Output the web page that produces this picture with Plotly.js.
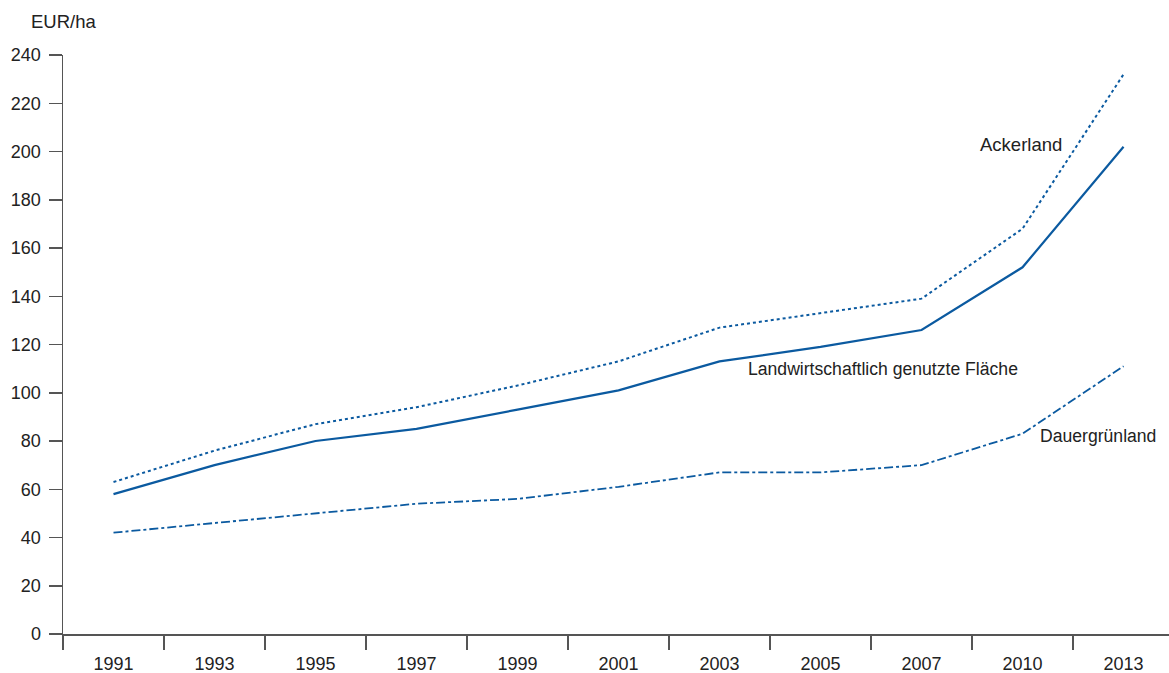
<!DOCTYPE html>
<html>
<head>
<meta charset="utf-8">
<script src="https://cdn.plot.ly/plotly-3.0.1.min.js"></script>
<style>html,body{margin:0;padding:0;background:#fff;}#chart{width:1169px;height:673px;}</style>
</head>
<body>
<div id="chart"></div>
<script>
const years = ["1991","1993","1995","1997","1999","2001","2003","2005","2007","2010","2013"];
const ackerland = [63, 76, 87, 94, 103, 113, 127, 133, 139, 168, 232];
const lf = [58, 70, 80, 85, 93, 101, 113, 119, 126, 152, 202];
const dauergruenland = [42, 46, 50, 54, 56, 61, 67, 67, 70, 83, 111];
const seriesNames = ["Ackerland", "Landwirtschaftlich genutzte Fläche", "Dauergrünland"];
const yTicks = [0, 20, 40, 60, 80, 100, 120, 140, 160, 180, 200, 220, 240];

const lineColor = "#0b5aa0";
const font = "Liberation Sans, Arial, sans-serif";
const fs = 17.6;

const traces = [
  {x: years, y: ackerland, name: seriesNames[0], mode: "lines", line: {color: lineColor, width: 2, dash: "dot"}},
  {x: years, y: lf, name: seriesNames[1], mode: "lines", line: {color: lineColor, width: 2.2, dash: "solid"}},
  {x: years, y: dauergruenland, name: seriesNames[2], mode: "lines", line: {color: lineColor, width: 1.8, dash: "dashdot"}}
];

const layout = {
  width: 1169, height: 673,
  margin: {l: 63, r: 0, t: 55, b: 39},
  paper_bgcolor: "#fff", plot_bgcolor: "#fff",
  showlegend: false,
  font: {family: font, size: fs, color: "#222"},
  xaxis: {
    type: "category",
    range: [-0.5, 10.45],
    showgrid: false, zeroline: false,
    showline: true, linecolor: "#555", linewidth: 2,
    ticks: "outside", tickson: "boundaries", ticklen: 14, tickcolor: "#555", tickwidth: 1.5,
    ticklabelstandoff: 12,
    tickfont: {family: font, size: 18, color: "#222"},
    fixedrange: true
  },
  yaxis: {
    range: [0, 240],
    tickvals: yTicks,
    showgrid: false, zeroline: false,
    showline: true, linecolor: "#555", linewidth: 1.5,
    ticks: "outside", ticklen: 13, tickcolor: "#555", tickwidth: 1.5,
    ticklabelstandoff: 4,
    tickfont: {family: font, size: 18, color: "#222"},
    fixedrange: true
  },
  annotations: [
    {text: "EUR/ha", xref: "paper", yref: "paper", x: -0.031, y: 1.057, xanchor: "left", yanchor: "middle", showarrow: false, font: {family: font, size: 18.5, color: "#222"}},
    {text: seriesNames[0], xref: "x", yref: "y", x: 8.98, y: 203, xanchor: "center", yanchor: "middle", showarrow: false, font: {family: font, size: 18.5, color: "#222"}},
    {text: seriesNames[1], xref: "x", yref: "y", x: 6.26, y: 110, xanchor: "left", yanchor: "middle", showarrow: false, font: {family: font, size: fs, color: "#222"}},
    {text: seriesNames[2], xref: "x", yref: "y", x: 9.15, y: 82, xanchor: "left", yanchor: "middle", showarrow: false, font: {family: font, size: fs, color: "#222"}}
  ]
};

Plotly.newPlot("chart", traces, layout, {displayModeBar: false, staticPlot: true});
</script>
</body>
</html>
